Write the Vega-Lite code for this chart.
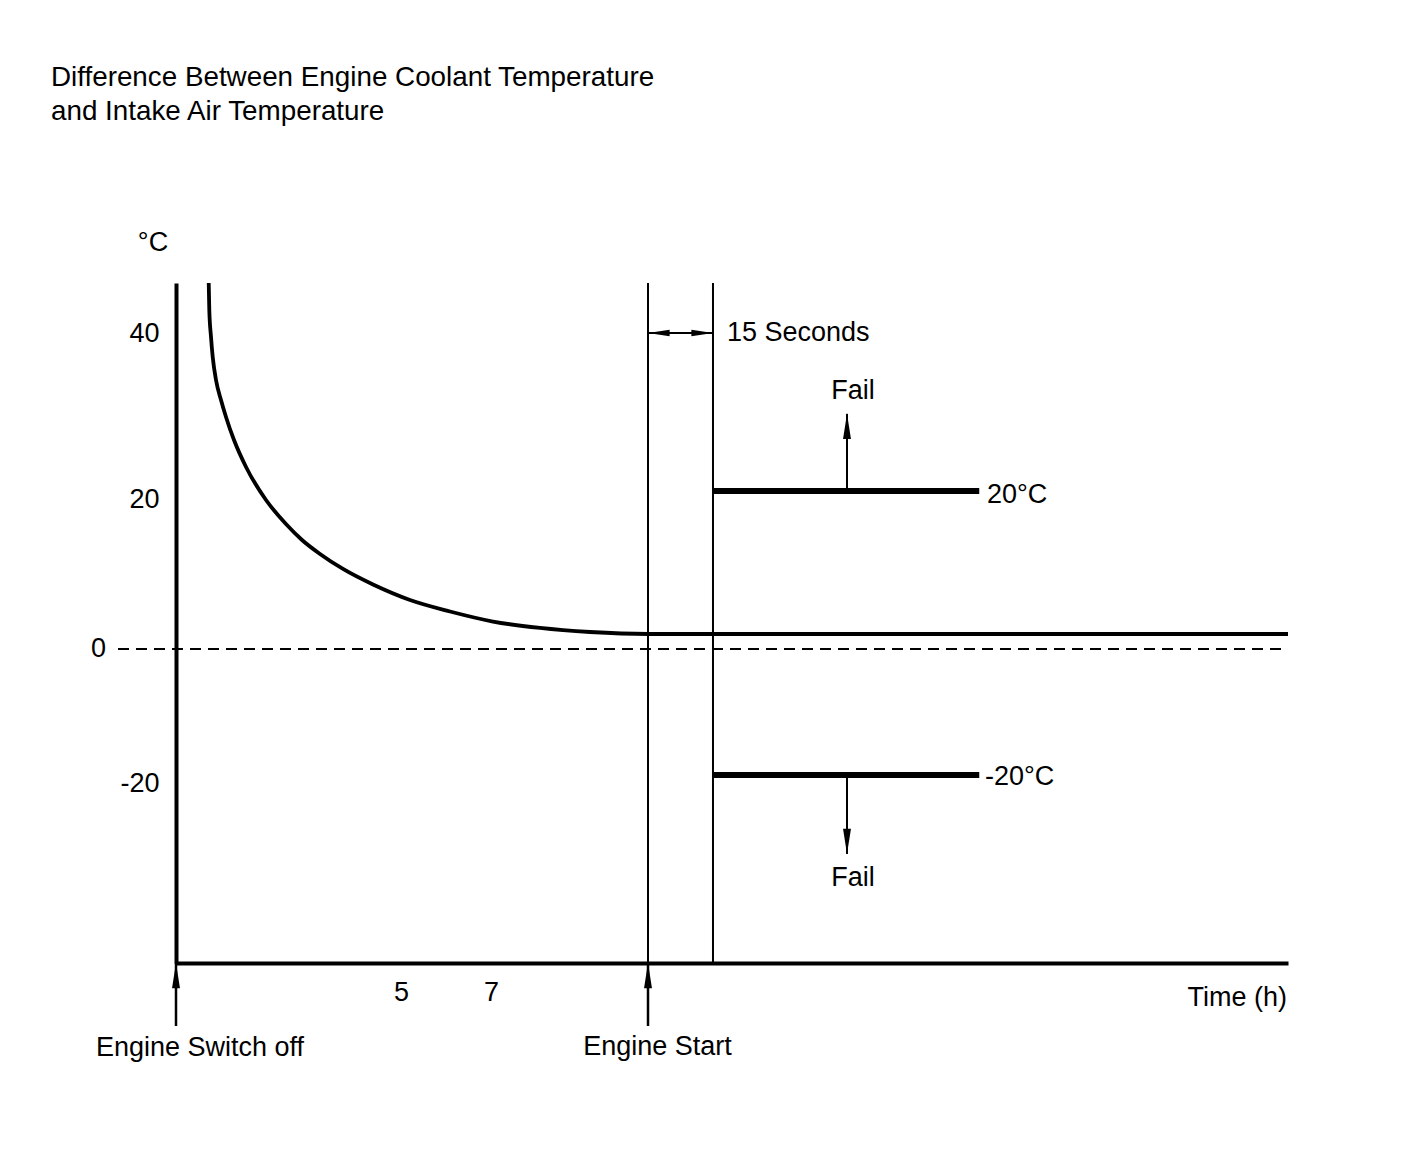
{
  "$schema": "https://vega.github.io/schema/vega-lite/v6.json",
  "width": 1112,
  "height": 680,
  "autosize": {"type": "none"},
  "padding": {"left": 176, "top": 283, "right": 136, "bottom": 197},
  "background": "white",
  "config": {
    "view": {"stroke": null},
    "font": "Liberation Sans",
    "text": {"font": "Liberation Sans", "fontSize": 27, "color": "black", "baseline": "middle"},
    "axis": {
      "labelFont": "Liberation Sans",
      "labelFontSize": 27,
      "labelColor": "black",
      "domainColor": "black",
      "domainWidth": 4,
      "ticks": false,
      "tickSize": 0,
      "grid": false
    }
  },
  "encoding": {
    "x": {
      "field": "t",
      "type": "quantitative",
      "scale": {"domain": [0, 24.711], "nice": false, "zero": false},
      "axis": {"title": null, "values": [5, 7], "labelPadding": 16, "labelExpr": "'' + datum.value"}
    },
    "y": {
      "field": "temp",
      "type": "quantitative",
      "scale": {
        "domain": [-50, -20, 0, 20, 40, 45],
        "range": [680, 492, 366, 208, 42, 0],
        "nice": false,
        "zero": false
      },
      "axis": {"title": null, "values": [-20, 20, 40], "labelPadding": 17, "labelOffset": 8, "labelExpr": "'' + datum.value"}
    }
  },
  "layer": [
    {
      "data": {"values": [{"t": -1.289, "t2": 24.711, "temp": 0}]},
      "mark": {"type": "rule", "color": "black", "strokeWidth": 2, "strokeDash": [11, 7], "clip": false},
      "encoding": {"x2": {"field": "t2"}}
    },
    {
      "data": {
        "values": [
          {"t": 0.727, "temp": 45.0},
          {"t": 0.74, "temp": 41.79},
          {"t": 0.778, "temp": 38.55},
          {"t": 0.816, "temp": 36.14},
          {"t": 0.889, "temp": 33.37},
          {"t": 1.0, "temp": 30.96},
          {"t": 1.111, "temp": 28.92},
          {"t": 1.289, "temp": 26.14},
          {"t": 1.556, "temp": 22.89},
          {"t": 2.0, "temp": 18.86},
          {"t": 2.444, "temp": 15.82},
          {"t": 2.8, "temp": 13.8},
          {"t": 3.2, "temp": 12.03},
          {"t": 3.711, "temp": 10.13},
          {"t": 4.378, "temp": 8.16},
          {"t": 5.2, "temp": 6.2},
          {"t": 6.089, "temp": 4.75},
          {"t": 7.044, "temp": 3.48},
          {"t": 8.089, "temp": 2.66},
          {"t": 9.2, "temp": 2.15},
          {"t": 10.489, "temp": 1.9},
          {"t": 24.711, "temp": 1.9}
        ]
      },
      "mark": {"type": "line", "interpolate": "monotone", "color": "black", "strokeWidth": 3.8, "clip": false}
    },
    {
      "data": {
        "values": [
          {"t": 10.489, "t2": 10.489, "temp": 45, "temp2": -50},
          {"t": 11.933, "t2": 11.933, "temp": 45, "temp2": -50},
          {"t": 10.489, "t2": 11.933, "temp": 39.04, "temp2": 39.04},
          {"t": 14.911, "t2": 14.911, "temp": 20, "temp2": 29.3},
          {"t": 14.911, "t2": 14.911, "temp": -20, "temp2": -32.6}
        ]
      },
      "mark": {"type": "rule", "color": "black", "strokeWidth": 2, "clip": false},
      "encoding": {"x2": {"field": "t2"}, "y2": {"field": "temp2"}}
    },
    {
      "data": {
        "values": [
          {"t": 0, "temp": -50, "temp2": -60.05},
          {"t": 10.489, "temp": -50, "temp2": -60.05}
        ]
      },
      "mark": {"type": "rule", "color": "black", "strokeWidth": 2.5, "clip": false},
      "encoding": {"y2": {"field": "temp2"}}
    },
    {
      "data": {
        "values": [
          {"t": 11.933, "t2": 17.85, "temp": 20},
          {"t": 11.933, "t2": 17.85, "temp": -20}
        ]
      },
      "mark": {"type": "rule", "color": "black", "strokeWidth": 6, "clip": false},
      "encoding": {"x2": {"field": "t2"}}
    },
    {
      "data": {
        "values": [
          {"t": 14.911, "temp": 29.3, "dir": "up"},
          {"t": 14.911, "temp": -32.6, "dir": "down"},
          {"t": 0, "temp": -50, "dir": "up"},
          {"t": 10.489, "temp": -50, "dir": "up"},
          {"t": 10.489, "temp": 39.04, "dir": "left"},
          {"t": 11.933, "temp": 39.04, "dir": "right"}
        ]
      },
      "mark": {"type": "point", "filled": true, "opacity": 1, "color": "black", "size": 576, "strokeWidth": 0, "clip": false},
      "encoding": {
        "shape": {
          "field": "dir",
          "type": "nominal",
          "scale": {
            "domain": ["up", "down", "left", "right"],
            "range": ["M0,0L0.33,2.1L-0.33,2.1Z", "M0,0L0.33,-2.1L-0.33,-2.1Z", "M0,0L1.8,-0.27L1.8,0.27Z", "M0,0L-1.8,-0.27L-1.8,0.27Z"]
          },
          "legend": null
        }
      }
    },
    {
      "data": {
        "values": [
          {"t": -2.778, "temp": 69.4, "label": "Difference Between Engine Coolant Temperature"},
          {"t": -2.778, "temp": 65.36, "label": "and Intake Air Temperature"}
        ]
      },
      "mark": {"type": "text", "align": "left", "fontSize": 27.8, "clip": false},
      "encoding": {"text": {"field": "label"}}
    },
    {
      "data": {
        "values": [
          {"t": 12.244, "temp": 39.04, "label": "15 Seconds"},
          {"t": 18.022, "temp": 19.49, "label": "20°C"},
          {"t": 17.978, "temp": -20.32, "label": "-20°C"}
        ]
      },
      "mark": {"type": "text", "align": "left", "clip": false},
      "encoding": {"text": {"field": "label"}}
    },
    {
      "data": {
        "values": [
          {"t": -0.511, "temp": 49.76, "label": "°C"},
          {"t": -1.722, "temp": 0, "label": "0"},
          {"t": 15.044, "temp": 32.05, "label": "Fail"},
          {"t": 15.044, "temp": -36.44, "label": "Fail"},
          {"t": 0.533, "temp": -63.56, "label": "Engine Switch off"},
          {"t": 10.7, "temp": -63.4, "label": "Engine Start"}
        ]
      },
      "mark": {"type": "text", "align": "center", "clip": false},
      "encoding": {"text": {"field": "label"}}
    },
    {
      "data": {
        "values": [
          {"t": 24.689, "temp": -55.58, "label": "Time (h)"}
        ]
      },
      "mark": {"type": "text", "align": "right", "clip": false},
      "encoding": {"text": {"field": "label"}}
    }
  ]
}
